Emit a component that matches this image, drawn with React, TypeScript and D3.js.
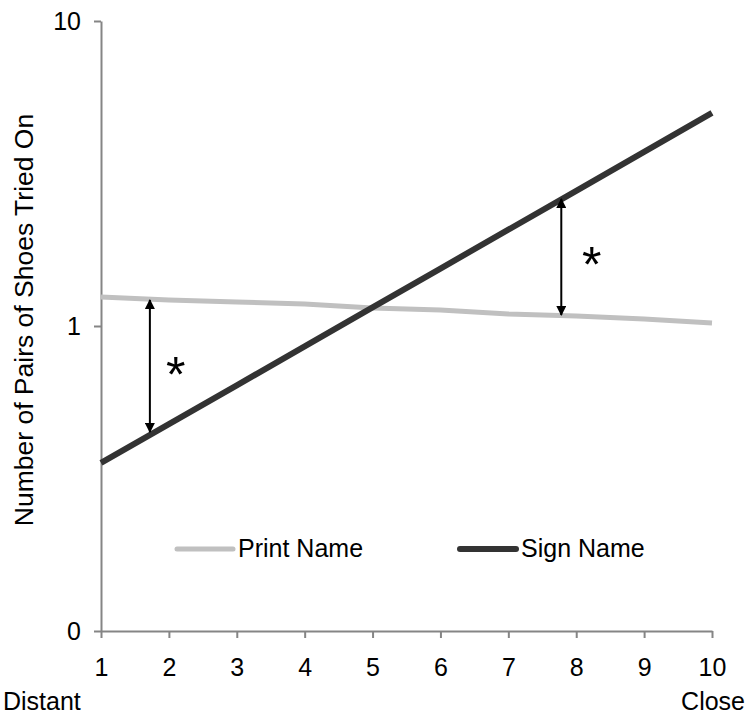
import React, { useEffect, useRef } from "react";
import * as d3 from "d3";

// x positions on the distant -> close scale
const steps = [1, 2, 3, 4, 5, 6, 7, 8, 9, 10];
// number of pairs of shoes tried on (log axis)
const printName = [1.245, 1.217, 1.199, 1.181, 1.146, 1.128, 1.095, 1.078, 1.054, 1.023];
const signName = [0.356, 0.477, 0.639, 0.858, 1.151, 1.543, 2.069, 2.775, 3.723, 4.994];
const yTicks = [0.1, 1, 10];
const seriesNames = ["Print Name", "Sign Name"];

// significance arrows: x, from, to
const arrowX = [1.72, 7.78];
const arrowFrom = [1.217, 2.609];
const arrowTo = [0.449, 1.087];
const starX = [2.1, 8.23];
const starY = [0.745, 1.709];

const W = 748;
const H = 719;
const FONT = "'Liberation Sans', Arial, Helvetica, sans-serif";

const App = () => {
  const svgRef = useRef<SVGSVGElement>(null);

  useEffect(() => {
    const svg = d3.select(svgRef.current);
    svg.selectAll("*").remove();

    const x = d3.scaleLinear().domain([1, 10]).range([101, 712]);
    const y = d3.scaleLog().domain([0.1, 10]).range([631, 21]);

    const defs = svg.append("defs");
    defs
      .append("marker")
      .attr("id", "head")
      .attr("viewBox", "0 0 10 10")
      .attr("refX", 9)
      .attr("refY", 5)
      .attr("markerWidth", 5)
      .attr("markerHeight", 5)
      .attr("orient", "auto-start-reverse")
      .append("path")
      .attr("d", "M0,0 L10,5 L0,10 z")
      .attr("fill", "#000");

    // axes
    const yAxis = d3
      .axisLeft(y)
      .tickValues(yTicks)
      .tickSize(7)
      .tickSizeOuter(0)
      .tickPadding(13)
      .tickFormat((d) => (+d < 1 ? "0" : d3.format("d")(+d)));

    const gy = svg.append("g").attr("transform", "translate(101,0)").call(yAxis);

    const xAxis = d3
      .axisBottom(x)
      .tickValues(steps)
      .tickSize(7)
      .tickSizeOuter(0)
      .tickPadding(20)
      .tickFormat(d3.format("d"));

    const gx = svg.append("g").attr("transform", "translate(0,631)").call(xAxis);

    [gx, gy].forEach((g) => {
      g.select(".domain").attr("stroke", "#858585").attr("stroke-width", 2);
      g.selectAll(".tick line").attr("stroke", "#858585").attr("stroke-width", 2);
      g.selectAll(".tick text")
        .attr("fill", "#000")
        .style("font-size", "25px")
        .style("font-family", FONT);
    });

    // end labels under x axis
    svg
      .append("text")
      .attr("x", 3)
      .attr("y", 710)
      .text("Distant")
      .style("font-size", "25px")
      .style("font-family", FONT);
    svg
      .append("text")
      .attr("x", 745)
      .attr("y", 710)
      .attr("text-anchor", "end")
      .text("Close")
      .style("font-size", "25px")
      .style("font-family", FONT);

    // y axis title
    svg
      .append("text")
      .attr("transform", "translate(33,320) rotate(-90)")
      .attr("text-anchor", "middle")
      .text("Number of Pairs of Shoes Tried On")
      .style("font-size", "26.5px")
      .style("font-family", FONT);

    const line = d3
      .line<number>()
      .x((d, i) => x(steps[i]))
      .y((d) => y(d));

    svg
      .append("path")
      .attr("d", line(printName))
      .attr("fill", "none")
      .attr("stroke", "#c0c0c0")
      .attr("stroke-width", 5);

    svg
      .append("path")
      .attr("d", line(signName))
      .attr("fill", "none")
      .attr("stroke", "#333333")
      .attr("stroke-width", 6);

    // significance arrows
    arrowX.forEach((ax, i) => {
      svg
        .append("line")
        .attr("x1", x(ax))
        .attr("x2", x(ax))
        .attr("y1", y(arrowFrom[i]))
        .attr("y2", y(arrowTo[i]))
        .attr("stroke", "#000")
        .attr("stroke-width", 2)
        .attr("marker-start", "url(#head)")
        .attr("marker-end", "url(#head)");
    });

    starX.forEach((sx, i) => {
      svg
        .append("text")
        .attr("x", x(sx))
        .attr("y", y(starY[i]) + 27)
        .attr("text-anchor", "middle")
        .text("*")
        .style("font-size", "50px")
        .style("font-family", FONT);
    });

    // legend
    const legendX = [177, 460];
    const colors = ["#c0c0c0", "#333333"];
    const widths = [5, 6];
    seriesNames.forEach((name, i) => {
      const g = svg.append("g").attr("transform", `translate(${legendX[i]},549)`);
      g.append("line")
        .attr("x1", 0)
        .attr("x2", 56)
        .attr("stroke", colors[i])
        .attr("stroke-width", widths[i])
        .attr("stroke-linecap", "round");
      g.append("text")
        .attr("x", 61)
        .attr("y", 8)
        .text(name)
        .style("font-size", "25px")
        .style("font-family", FONT);
    });
  }, []);

  return (
    <svg
      ref={svgRef}
      width={W}
      height={H}
      style={{ position: "absolute", left: 0, top: 0, background: "#fff" }}
    />
  );
};

export default App;
